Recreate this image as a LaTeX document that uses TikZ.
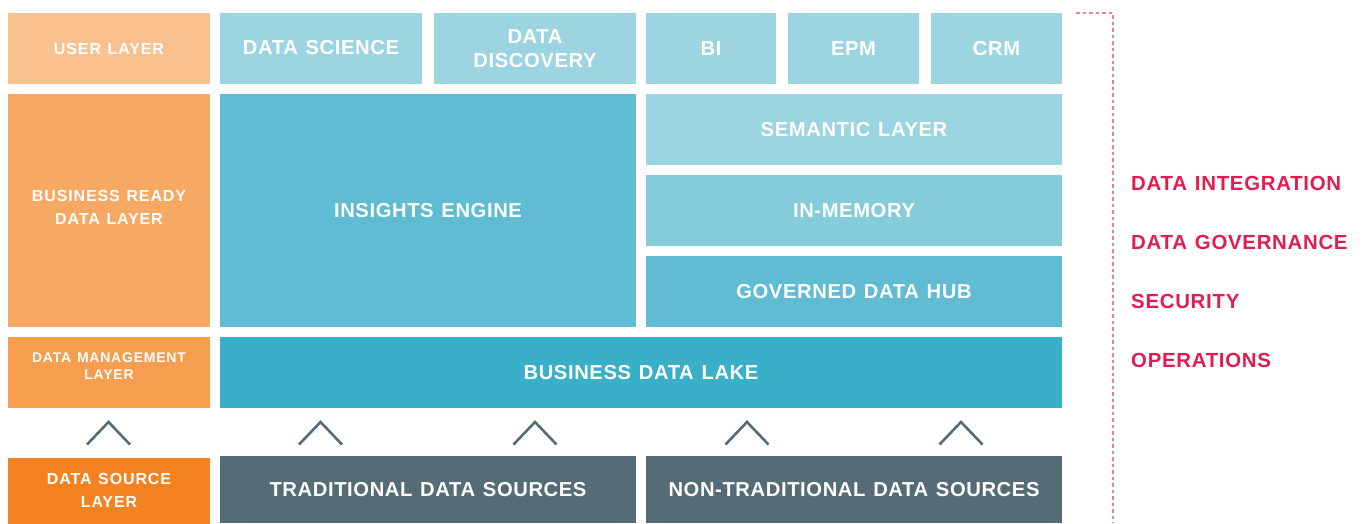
\documentclass[tikz,border=0pt]{standalone}
\usepackage{fontspec}
\setmainfont{Liberation Sans}
\newfontfamily\bfont{Liberation Sans}[LetterSpace=3,WordSpace=1.25]
\newfontfamily\lfont{Liberation Sans}[LetterSpace=5.5,WordSpace=1.25]
\newfontfamily\pfont{Liberation Sans}[LetterSpace=3.5,WordSpace=1.25]
\definecolor{userC}{HTML}{F8C18F}
\definecolor{readyC}{HTML}{F7A963}
\definecolor{mgmtC}{HTML}{F69D4F}
\definecolor{srcC}{HTML}{F38321}
\definecolor{lightB}{HTML}{9CD5E1}
\definecolor{memB}{HTML}{84CCDA}
\definecolor{midB}{HTML}{5FBCD2}
\definecolor{lakeB}{HTML}{3AAFC8}
\definecolor{darkG}{HTML}{556C77}
\definecolor{pinkT}{HTML}{E31C4F}
\definecolor{dashC}{HTML}{E97F9A}
\begin{document}
\begin{tikzpicture}[x=1pt,y=-1pt,
  box/.style={inner sep=0pt, outer sep=0pt, draw=none, text=white, align=center,
    font=\bfont\bfseries\fontsize{20.2}{24}\selectfont},
  lbox/.style={box, font=\lfont\bfseries\fontsize{16}{23}\selectfont},
  ltext/.style={inner sep=0pt, text=white, align=center, font=\lfont\bfseries\fontsize{16}{23}\selectfont},
  ptext/.style={inner sep=0pt, anchor=west, text=pinkT, font=\pfont\bfseries\fontsize{20.4}{24}\selectfont},
  chev/.style={draw=darkG, line width=2.6pt},
  dashline/.style={draw=dashC, line width=1.3pt, dash pattern=on 3.5pt off 3pt}
]
\useasboundingbox (0,0) rectangle (1364,523);
% user layer row
\node[lbox, fill=userC, minimum width=202pt, minimum height=71pt] (user) at (109,48.5) {USER LAYER};
\node[box, fill=lightB, minimum width=202pt, minimum height=71pt] (ds) at (321,48) {DATA SCIENCE};
\node[box, fill=lightB, minimum width=202pt, minimum height=71pt] (dd) at (535,48.5) {DATA\\DISCOVERY};
\node[box, fill=lightB, minimum width=130pt, minimum height=71pt] (bi) at (711,48.5) {BI};
\node[box, fill=lightB, minimum width=131pt, minimum height=71pt] (epm) at (853.5,48.5) {EPM};
\node[box, fill=lightB, minimum width=131pt, minimum height=71pt] (crm) at (996.5,48.5) {CRM};
% business ready layer
\node[box, fill=readyC, minimum width=202pt, minimum height=233pt] (ready) at (109,210.5) {};
\node[ltext] (readyt) at (109,207) {BUSINESS READY\\DATA LAYER};
\node[box, fill=midB, minimum width=416pt, minimum height=233pt] (ins) at (428,210.5) {INSIGHTS ENGINE};
\node[box, fill=lightB, minimum width=416pt, minimum height=71pt] (sem) at (854,129.5) {SEMANTIC LAYER};
\node[box, fill=memB, minimum width=416pt, minimum height=71pt] (mem) at (854,210.5) {IN-MEMORY};
\node[box, fill=midB, minimum width=416pt, minimum height=71pt] (hub) at (854,291.5) {GOVERNED DATA HUB};
% data management layer
\node[box, fill=mgmtC, minimum width=202pt, minimum height=71pt] (mgmt) at (109,372.5) {};
\node[ltext, font=\lfont\bfseries\fontsize{14}{17}\selectfont] (mgmtt) at (109,366.5) {DATA MANAGEMENT\\LAYER};
\node[box, fill=lakeB, minimum width=842pt, minimum height=71pt] (lake) at (641,372.5) {BUSINESS DATA LAKE};
% data source layer
\node[lbox, fill=srcC, minimum width=202pt, minimum height=66pt] (src) at (109,490.5) {DATA SOURCE\\LAYER};
\node[box, fill=darkG, minimum width=416pt, minimum height=67pt] (trad) at (428,489.5) {TRADITIONAL DATA SOURCES};
\node[box, fill=darkG, minimum width=416pt, minimum height=67pt] (ntrad) at (854,489.5) {NON-TRADITIONAL DATA SOURCES};
% chevrons
\foreach \cx in {108.5,320.5,535,747,961}{
  \draw[chev] (\cx-21.5,444.5) -- (\cx,422) -- (\cx+21.5,444.5);
}
% dashed bracket
\coordinate (bkA) at (1076,13);
\coordinate (bkB) at (1113,13);
\coordinate (bkC) at (1113,523);
\draw[dashline] (bkA) -- (bkB) -- (bkC);
% cross-cutting concerns
\node[ptext] (integ) at (1131,183) {DATA INTEGRATION};
\node[ptext] (gov) at (1131,242) {DATA GOVERNANCE};
\node[ptext] (sec) at (1131,301) {SECURITY};
\node[ptext] (ops) at (1131,360) {OPERATIONS};
\end{tikzpicture}
\end{document}
